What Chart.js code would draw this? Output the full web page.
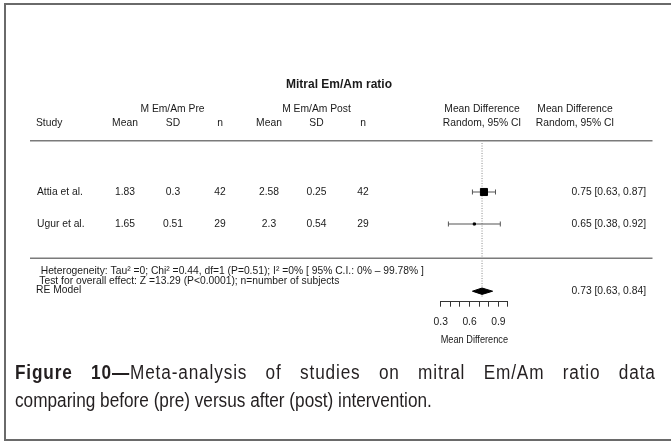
<!DOCTYPE html>
<html><head><meta charset="utf-8">
<script src="https://cdn.jsdelivr.net/npm/chart.js@4.4.1/dist/chart.umd.min.js"></script>
<style>
html,body{margin:0;padding:0;width:671px;height:445px;overflow:hidden;background:#fff;}
#frame{position:absolute;left:4px;top:3px;width:800px;height:438px;border:2px solid #6a6a6a;box-sizing:border-box;}
#wrap{position:absolute;left:0;top:0;width:671px;height:445px;}
.cap{position:absolute;left:15px;width:745px;font-family:"Liberation Sans",Arial,Helvetica,sans-serif;font-size:20px;color:#231f20;white-space:nowrap;line-height:28px;transform:scaleX(0.86);transform-origin:0 0;}
#cap1{top:358px;text-align:justify;text-align-last:justify;letter-spacing:1px;}
#cap2{top:386px;}
</style>
</head><body>
<div id="frame"></div>
<div id="wrap"><canvas id="c" width="671" height="445"></canvas></div>
<div class="cap" id="cap1"><b>Figure 10—</b>Meta-analysis of studies on mitral Em/Am ratio data</div>
<div class="cap" id="cap2">comparing before (pre) versus after (post) intervention.</div>
<script>
// ---- data ----
const studies = ['Attia et al.', 'Ugur et al.'];
const preMean = [1.83, 1.65];
const preSD = [0.3, 0.51];
const preN = [42, 29];
const postMean = [2.58, 2.3];
const postSD = [0.25, 0.54];
const postN = [42, 29];
const meanDiff = [0.75, 0.65];
const ciLower = [0.63, 0.38];
const ciUpper = [0.87, 0.92];
const pooledLabel = ['RE Model'];
const pooledMD = [0.73];
const pooledLower = [0.63];
const pooledUpper = [0.84];
const axisTicks = [0.3, 0.4, 0.5, 0.6, 0.7, 0.8, 0.9, 1.0];
const axisLabels = ['0.3', '0.6', '0.9'];
const heterogeneityText = 'Heterogeneity: Tau\u00b2 =0; Chi\u00b2 =0.44, df=1 (P=0.51); I\u00b2 =0% [ 95% C.I.: 0% \u2013 99.78% ]';
const overallText = 'Test for overall effect: Z =13.29 (P<0.0001); n=number of subjects';

// ---- layout rows ----
const studyRows = studies.map((_, i) => studies.length - i);
const pooledRow = -1.1;
const FONT = '"Liberation Sans", Arial, Helvetica, sans-serif';
const fmtRes = (m, l, u) => m.toFixed(2) + ' [' + l.toFixed(2) + ', ' + u.toFixed(2) + ']';

const datasets = [];
// reference dotted line at pooled estimate
datasets.push({
  type: 'line', data: [{x: pooledMD[0], y: 3.53}, {x: pooledMD[0], y: -1.3}],
  borderColor: '#8a8a8a', borderWidth: 1, borderDash: [1, 1.5], pointRadius: 0, order: 5
});
// CI whiskers
studies.forEach((s, i) => {
  datasets.push({
    type: 'line', data: [{x: ciLower[i], y: studyRows[i]}, {x: ciUpper[i], y: studyRows[i]}],
    borderColor: '#555', borderWidth: 1.2, pointStyle: 'line', rotation: 90,
    pointRadius: 2.5, pointBorderColor: '#555', pointBorderWidth: 1, order: 4
  });
});
// point estimates
datasets.push({
  type: 'scatter', data: studies.map((s, i) => ({x: meanDiff[i], y: studyRows[i]})),
  pointStyle: 'rect', pointRadius: [5, 1.5], backgroundColor: '#000', borderColor: '#000',
  pointBorderWidth: 1, order: 3
});
// pooled diamond
datasets.push({
  type: 'line',
  data: [
    {x: pooledLower[0], y: pooledRow},
    {x: pooledMD[0], y: pooledRow + 0.1},
    {x: pooledUpper[0], y: pooledRow},
    {x: pooledMD[0], y: pooledRow - 0.1},
    {x: pooledLower[0], y: pooledRow}
  ],
  fill: 'shape', backgroundColor: '#000', borderColor: '#000', borderWidth: 1,
  pointRadius: 0, tension: 0, order: 2
});

const tablePlugin = {
  id: 'forestTable',
  afterDraw(chart) {
    const ctx = chart.ctx, ys = chart.scales.y;
    ctx.save();
    ctx.fillStyle = '#1a1a1a';
    ctx.textBaseline = 'middle';
    // title
    ctx.font = 'bold 12px ' + FONT;
    ctx.textAlign = 'center';
    ctx.fillText('Mitral Em/Am ratio', 339, 85);
    // headers
    ctx.font = '10.3px ' + FONT;
    ctx.fillText('M Em/Am Pre', 172.5, 109);
    ctx.fillText('M Em/Am Post', 316.5, 109);
    ctx.fillText('Mean Difference', 482, 109);
    ctx.fillText('Mean Difference', 575, 109);
    const cols = [125, 173, 220, 269, 316.5, 363];
    ['Mean', 'SD', 'n', 'Mean', 'SD', 'n'].forEach((h, k) => ctx.fillText(h, cols[k], 123.5));
    ctx.fillText('Random, 95% CI', 482, 123.5);
    ctx.fillText('Random, 95% CI', 575, 123.5);
    ctx.textAlign = 'left';
    ctx.fillText('Study', 36, 123.5);
    // separator lines
    ctx.strokeStyle = '#7a7a7a'; ctx.lineWidth = 1.6;
    ctx.beginPath(); ctx.moveTo(30, 140.7); ctx.lineTo(652.5, 140.7); ctx.stroke();
    ctx.beginPath(); ctx.moveTo(30, 258.3); ctx.lineTo(652.5, 258.3); ctx.stroke();
    // study rows
    studies.forEach((s, i) => {
      const py = ys.getPixelForValue(studyRows[i]);
      ctx.textAlign = 'left';
      ctx.fillText(s, 37, py);
      ctx.textAlign = 'center';
      const vals = [preMean[i], preSD[i], preN[i], postMean[i], postSD[i], postN[i]];
      vals.forEach((v, k) => ctx.fillText(String(v), cols[k], py));
      ctx.textAlign = 'right';
      ctx.fillText(fmtRes(meanDiff[i], ciLower[i], ciUpper[i]), 646, py);
    });
    // summary
    ctx.textAlign = 'left';
    ctx.fillText(heterogeneityText, 40.7, 271.5);
    ctx.fillText(overallText, 39.3, 281.5);
    const pp = ys.getPixelForValue(pooledRow);
    ctx.fillText(pooledLabel[0], 36, pp - 1.5);
    ctx.textAlign = 'right';
    ctx.fillText(fmtRes(pooledMD[0], pooledLower[0], pooledUpper[0]), 646, pp);
    ctx.restore();
  }
};

new Chart(document.getElementById('c'), {
  data: {datasets},
  options: {
    responsive: false, animation: false, devicePixelRatio: 1,
    layout: {padding: {left: 440.7, right: 163, top: 143, bottom: 98.5}},
    plugins: {legend: {display: false}, tooltip: {enabled: false}},
    scales: {
      x: {
        type: 'linear', position: 'bottom', min: 0.3, max: 1.0,
        afterBuildTicks: s => { s.ticks = axisTicks.map(v => ({value: v})); },
        afterFit: s => { s.height = 44.8; },
        ticks: {
          autoSkip: false, maxRotation: 0, padding: 8.8, color: '#1a1a1a',
          font: {size: 10.3, family: FONT},
          callback: v => { const t = (Math.round(v * 10) / 10).toFixed(1); return axisLabels.includes(t) ? t : ''; }
        },
        grid: {drawOnChartArea: false, drawTicks: true, tickLength: 5, color: '#333', lineWidth: 1},
        border: {display: true, color: '#333', width: 1},
        title: {display: true, text: 'Mean Difference', color: '#1a1a1a', font: {size: 10.3, family: FONT}, padding: {top: 4, bottom: 0}}
      },
      y: {type: 'linear', min: -1.428, max: 3.531, display: false}
    }
  },
  plugins: [tablePlugin]
});
</script>
</body></html>
